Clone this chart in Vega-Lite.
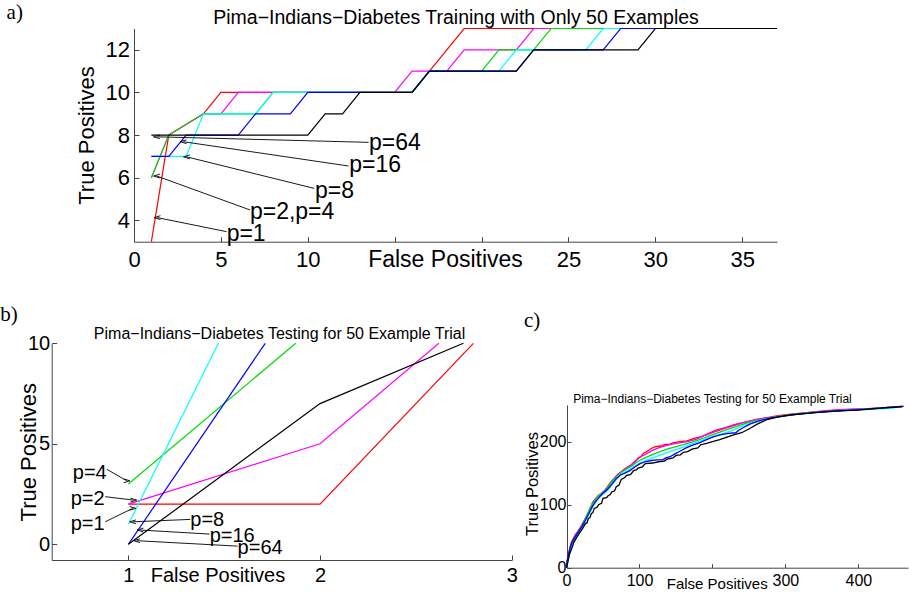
{
"$schema": "https://vega.github.io/schema/vega-lite/v6.json",
"width": 909, "height": 593,
"autosize": {"type": "none"},
"padding": 0,
"config": {
 "view": {"stroke": null},
 "axis": {"grid": false, "domainColor": "#444", "tickColor": "#444", "labelColor": "#000", "titleColor": "#000", "labelFont": "Liberation Sans", "titleFont": "Liberation Sans", "titleFontWeight": "normal", "labelOverlap": false, "labelFlush": false, "domainWidth": 1, "tickWidth": 1},
 "text": {"font": "Liberation Sans"}
},
"datasets": {
 "aLines": [
  {"p":"p=1","x":1,"y":3},{"p":"p=1","x":2,"y":8},{"p":"p=1","x":4,"y":9},{"p":"p=1","x":5,"y":10},{"p":"p=1","x":16,"y":10},{"p":"p=1","x":17,"y":11},{"p":"p=1","x":19,"y":13},{"p":"p=1","x":37,"y":13},
  {"p":"p=2","x":1,"y":6},{"p":"p=2","x":2,"y":8},{"p":"p=2","x":4,"y":9},{"p":"p=2","x":5,"y":9},{"p":"p=2","x":6,"y":10},{"p":"p=2","x":15,"y":10},{"p":"p=2","x":16,"y":11},{"p":"p=2","x":18,"y":11},{"p":"p=2","x":19,"y":12},{"p":"p=2","x":22,"y":12},{"p":"p=2","x":23,"y":13},{"p":"p=2","x":37,"y":13},
  {"p":"p=4","x":1,"y":6},{"p":"p=4","x":2,"y":8},{"p":"p=4","x":4,"y":9},{"p":"p=4","x":7,"y":9},{"p":"p=4","x":8,"y":10},{"p":"p=4","x":16,"y":10},{"p":"p=4","x":17,"y":11},{"p":"p=4","x":20,"y":11},{"p":"p=4","x":21,"y":12},{"p":"p=4","x":23,"y":12},{"p":"p=4","x":24,"y":13},{"p":"p=4","x":37,"y":13},
  {"p":"p=8","x":1,"y":7},{"p":"p=8","x":3,"y":7},{"p":"p=8","x":4,"y":9},{"p":"p=8","x":7,"y":9},{"p":"p=8","x":8,"y":10},{"p":"p=8","x":16,"y":10},{"p":"p=8","x":17,"y":11},{"p":"p=8","x":21,"y":11},{"p":"p=8","x":22,"y":12},{"p":"p=8","x":26,"y":12},{"p":"p=8","x":27,"y":13},{"p":"p=8","x":37,"y":13},
  {"p":"p=16","x":1,"y":7},{"p":"p=16","x":2,"y":7},{"p":"p=16","x":3,"y":8},{"p":"p=16","x":6,"y":8},{"p":"p=16","x":7,"y":9},{"p":"p=16","x":9,"y":9},{"p":"p=16","x":10,"y":10},{"p":"p=16","x":16,"y":10},{"p":"p=16","x":17,"y":11},{"p":"p=16","x":22,"y":11},{"p":"p=16","x":23,"y":12},{"p":"p=16","x":27,"y":12},{"p":"p=16","x":28,"y":13},{"p":"p=16","x":37,"y":13},
  {"p":"p=64","x":1,"y":8},{"p":"p=64","x":10,"y":8},{"p":"p=64","x":11,"y":9},{"p":"p=64","x":12,"y":9},{"p":"p=64","x":13,"y":10},{"p":"p=64","x":16,"y":10},{"p":"p=64","x":17,"y":11},{"p":"p=64","x":22,"y":11},{"p":"p=64","x":23,"y":12},{"p":"p=64","x":29,"y":12},{"p":"p=64","x":30,"y":13},{"p":"p=64","x":37,"y":13}
 ],
 "aText": [
  {"label":"p=64","x":13.52,"y":7.61},
  {"label":"p=16","x":12.39,"y":6.6},
  {"label":"p=8","x":10.41,"y":5.39},
  {"label":"p=2,p=4","x":6.67,"y":4.41},
  {"label":"p=1","x":5.33,"y":3.35}
 ],
 "aArrows": [
  {"dir":"L","x":1.31,"y":7.92,"x2":13.5,"y2":7.66},
  {"dir":"L","x":2.84,"y":7.69,"x2":12.35,"y2":6.55},
  {"dir":"L","x":3.03,"y":6.98,"x2":10.37,"y2":5.5},
  {"dir":"L","x":1.31,"y":6.08,"x2":6.67,"y2":4.49},
  {"dir":"L","x":1.34,"y":4.13,"x2":5.33,"y2":3.47}
 ],
 "aTitle": [{"label":"Pima−Indians−Diabetes Training with Only 50 Examples","x":18.53,"y":13.21}],
 "aTag": [{"label":"a)","x":-7.33,"y":13.44}],
 "bLines": [
  {"p":"p=1","x":1,"y":2},{"p":"p=1","x":2,"y":2},{"p":"p=1","x":2.8,"y":10},
  {"p":"p=2","x":1,"y":2},{"p":"p=2","x":2,"y":5},{"p":"p=2","x":2.62,"y":10},
  {"p":"p=4","x":1,"y":3},{"p":"p=4","x":1.873,"y":10},
  {"p":"p=8","x":1,"y":1},{"p":"p=8","x":1.47,"y":10},
  {"p":"p=16","x":1,"y":0},{"p":"p=16","x":1.714,"y":10},
  {"p":"p=64","x":1,"y":0},{"p":"p=64","x":2,"y":7},{"p":"p=64","x":2.748,"y":10}
 ],
 "bText": [
  {"label":"p=4","x":0.71,"y":3.55},
  {"label":"p=2","x":0.699,"y":2.25},
  {"label":"p=1","x":0.699,"y":1.01},
  {"label":"p=8","x":1.323,"y":1.21},
  {"label":"p=16","x":1.424,"y":0.43},
  {"label":"p=64","x":1.57,"y":-0.2}
 ],
 "bArrows": [
  {"dir":"R","x":0.992,"y":3.16,"x2":0.888,"y2":3.73},
  {"dir":"R","x":1.027,"y":2.2,"x2":0.879,"y2":2.37},
  {"dir":"R","x":1.023,"y":1.79,"x2":0.879,"y2":1.12},
  {"dir":"L","x":1.023,"y":1.12,"x2":1.323,"y2":1.24},
  {"dir":"L","x":1.062,"y":0.71,"x2":1.424,"y2":0.51},
  {"dir":"L","x":1.044,"y":0.18,"x2":1.57,"y2":-0.09}
 ],
 "bTitle": [{"label":"Pima−Indians−Diabetes Testing for 50 Example Trial","x":1.789,"y":10.2}],
 "bTag": [{"label":"b)","x":0.332,"y":11.11}],
 "cLines": [
  {"p":"p=1","x":0,"y":0},{"p":"p=1","x":1,"y":8},{"p":"p=1","x":2,"y":18},{"p":"p=1","x":4,"y":28},{"p":"p=1","x":6,"y":38},{"p":"p=1","x":9,"y":46},{"p":"p=1","x":12,"y":52},{"p":"p=1","x":15,"y":57},{"p":"p=1","x":19,"y":64},{"p":"p=1","x":22,"y":70},{"p":"p=1","x":26,"y":78},{"p":"p=1","x":30,"y":88},{"p":"p=1","x":33,"y":96},{"p":"p=1","x":36,"y":104},{"p":"p=1","x":40,"y":110},{"p":"p=1","x":44,"y":115},{"p":"p=1","x":48,"y":118},{"p":"p=1","x":52,"y":122},{"p":"p=1","x":56,"y":128},{"p":"p=1","x":60,"y":135},{"p":"p=1","x":65,"y":141},{"p":"p=1","x":70,"y":148},{"p":"p=1","x":75,"y":152},{"p":"p=1","x":80,"y":157},{"p":"p=1","x":86,"y":161},{"p":"p=1","x":90,"y":162},{"p":"p=1","x":94,"y":168},{"p":"p=1","x":98,"y":174},{"p":"p=1","x":102,"y":176},{"p":"p=1","x":106,"y":182},{"p":"p=1","x":110,"y":184},{"p":"p=1","x":116,"y":189},{"p":"p=1","x":122,"y":192},{"p":"p=1","x":130,"y":193},{"p":"p=1","x":134,"y":195},{"p":"p=1","x":142,"y":196},{"p":"p=1","x":146,"y":198},{"p":"p=1","x":155,"y":200},{"p":"p=1","x":165,"y":201},{"p":"p=1","x":175,"y":205},{"p":"p=1","x":185,"y":208},{"p":"p=1","x":195,"y":213},{"p":"p=1","x":205,"y":218},{"p":"p=1","x":218,"y":222},{"p":"p=1","x":230,"y":227},{"p":"p=1","x":245,"y":231},{"p":"p=1","x":260,"y":235},{"p":"p=1","x":275,"y":238},{"p":"p=1","x":290,"y":241},{"p":"p=1","x":310,"y":244},{"p":"p=1","x":330,"y":246},{"p":"p=1","x":350,"y":248},{"p":"p=1","x":370,"y":250},{"p":"p=1","x":390,"y":251},{"p":"p=1","x":410,"y":252},{"p":"p=1","x":425,"y":253},
  {"p":"p=2","x":0,"y":0},{"p":"p=2","x":1,"y":10},{"p":"p=2","x":3,"y":20},{"p":"p=2","x":5,"y":32},{"p":"p=2","x":8,"y":42},{"p":"p=2","x":11,"y":49},{"p":"p=2","x":15,"y":56},{"p":"p=2","x":19,"y":63},{"p":"p=2","x":23,"y":72},{"p":"p=2","x":27,"y":80},{"p":"p=2","x":31,"y":90},{"p":"p=2","x":35,"y":100},{"p":"p=2","x":39,"y":108},{"p":"p=2","x":44,"y":114},{"p":"p=2","x":49,"y":119},{"p":"p=2","x":54,"y":124},{"p":"p=2","x":59,"y":132},{"p":"p=2","x":64,"y":140},{"p":"p=2","x":70,"y":147},{"p":"p=2","x":76,"y":153},{"p":"p=2","x":82,"y":158},{"p":"p=2","x":88,"y":163},{"p":"p=2","x":95,"y":170},{"p":"p=2","x":102,"y":176},{"p":"p=2","x":110,"y":181},{"p":"p=2","x":118,"y":186},{"p":"p=2","x":126,"y":190},{"p":"p=2","x":135,"y":193},{"p":"p=2","x":145,"y":196},{"p":"p=2","x":155,"y":198},{"p":"p=2","x":166,"y":200},{"p":"p=2","x":178,"y":204},{"p":"p=2","x":190,"y":210},{"p":"p=2","x":202,"y":215},{"p":"p=2","x":215,"y":220},{"p":"p=2","x":228,"y":225},{"p":"p=2","x":242,"y":230},{"p":"p=2","x":258,"y":234},{"p":"p=2","x":274,"y":237},{"p":"p=2","x":290,"y":240},{"p":"p=2","x":310,"y":243},{"p":"p=2","x":330,"y":246},{"p":"p=2","x":355,"y":249},{"p":"p=2","x":380,"y":251},{"p":"p=2","x":405,"y":252},{"p":"p=2","x":428,"y":253},
  {"p":"p=4","x":0,"y":0},{"p":"p=4","x":2,"y":12},{"p":"p=4","x":4,"y":24},{"p":"p=4","x":6,"y":34},{"p":"p=4","x":9,"y":43},{"p":"p=4","x":13,"y":51},{"p":"p=4","x":17,"y":58},{"p":"p=4","x":21,"y":66},{"p":"p=4","x":25,"y":76},{"p":"p=4","x":29,"y":86},{"p":"p=4","x":33,"y":96},{"p":"p=4","x":37,"y":104},{"p":"p=4","x":42,"y":112},{"p":"p=4","x":47,"y":117},{"p":"p=4","x":53,"y":122},{"p":"p=4","x":58,"y":130},{"p":"p=4","x":64,"y":139},{"p":"p=4","x":70,"y":146},{"p":"p=4","x":76,"y":152},{"p":"p=4","x":83,"y":157},{"p":"p=4","x":90,"y":162},{"p":"p=4","x":97,"y":168},{"p":"p=4","x":105,"y":173},{"p":"p=4","x":113,"y":177},{"p":"p=4","x":121,"y":181},{"p":"p=4","x":130,"y":185},{"p":"p=4","x":140,"y":189},{"p":"p=4","x":150,"y":192},{"p":"p=4","x":160,"y":195},{"p":"p=4","x":172,"y":199},{"p":"p=4","x":184,"y":204},{"p":"p=4","x":196,"y":209},{"p":"p=4","x":210,"y":215},{"p":"p=4","x":225,"y":221},{"p":"p=4","x":240,"y":227},{"p":"p=4","x":255,"y":232},{"p":"p=4","x":272,"y":236},{"p":"p=4","x":290,"y":240},{"p":"p=4","x":310,"y":243},{"p":"p=4","x":335,"y":246},{"p":"p=4","x":360,"y":248},{"p":"p=4","x":385,"y":250},{"p":"p=4","x":410,"y":252},{"p":"p=4","x":435,"y":253},{"p":"p=4","x":450,"y":254},
  {"p":"p=8","x":0,"y":0},{"p":"p=8","x":2,"y":10},{"p":"p=8","x":4,"y":22},{"p":"p=8","x":7,"y":33},{"p":"p=8","x":10,"y":42},{"p":"p=8","x":14,"y":50},{"p":"p=8","x":18,"y":57},{"p":"p=8","x":22,"y":65},{"p":"p=8","x":26,"y":74},{"p":"p=8","x":30,"y":83},{"p":"p=8","x":34,"y":93},{"p":"p=8","x":38,"y":101},{"p":"p=8","x":43,"y":109},{"p":"p=8","x":48,"y":115},{"p":"p=8","x":54,"y":120},{"p":"p=8","x":60,"y":128},{"p":"p=8","x":66,"y":137},{"p":"p=8","x":72,"y":145},{"p":"p=8","x":78,"y":150},{"p":"p=8","x":85,"y":155},{"p":"p=8","x":92,"y":160},{"p":"p=8","x":99,"y":165},{"p":"p=8","x":107,"y":169},{"p":"p=8","x":115,"y":173},{"p":"p=8","x":123,"y":176},{"p":"p=8","x":132,"y":180},{"p":"p=8","x":142,"y":184},{"p":"p=8","x":152,"y":188},{"p":"p=8","x":162,"y":192},{"p":"p=8","x":174,"y":197},{"p":"p=8","x":186,"y":202},{"p":"p=8","x":198,"y":207},{"p":"p=8","x":212,"y":212},{"p":"p=8","x":226,"y":217},{"p":"p=8","x":240,"y":224},{"p":"p=8","x":255,"y":230},{"p":"p=8","x":270,"y":235},{"p":"p=8","x":288,"y":239},{"p":"p=8","x":308,"y":242},{"p":"p=8","x":330,"y":245},{"p":"p=8","x":355,"y":247},{"p":"p=8","x":380,"y":249},{"p":"p=8","x":405,"y":251},{"p":"p=8","x":430,"y":252},{"p":"p=8","x":448,"y":253},
  {"p":"p=16","x":0,"y":0},{"p":"p=16","x":1,"y":12},{"p":"p=16","x":3,"y":22},{"p":"p=16","x":5,"y":32},{"p":"p=16","x":8,"y":41},{"p":"p=16","x":12,"y":49},{"p":"p=16","x":16,"y":56},{"p":"p=16","x":20,"y":63},{"p":"p=16","x":24,"y":71},{"p":"p=16","x":28,"y":80},{"p":"p=16","x":32,"y":89},{"p":"p=16","x":36,"y":98},{"p":"p=16","x":40,"y":105},{"p":"p=16","x":45,"y":112},{"p":"p=16","x":50,"y":118},{"p":"p=16","x":56,"y":124},{"p":"p=16","x":62,"y":132},{"p":"p=16","x":68,"y":141},{"p":"p=16","x":74,"y":147},{"p":"p=16","x":80,"y":150},{"p":"p=16","x":87,"y":154},{"p":"p=16","x":94,"y":160},{"p":"p=16","x":101,"y":165},{"p":"p=16","x":108,"y":168},{"p":"p=16","x":116,"y":170},{"p":"p=16","x":124,"y":171},{"p":"p=16","x":132,"y":171},{"p":"p=16","x":136,"y":174},{"p":"p=16","x":142,"y":176},{"p":"p=16","x":148,"y":180},{"p":"p=16","x":156,"y":185},{"p":"p=16","x":164,"y":190},{"p":"p=16","x":172,"y":194},{"p":"p=16","x":182,"y":198},{"p":"p=16","x":192,"y":203},{"p":"p=16","x":202,"y":208},{"p":"p=16","x":212,"y":211},{"p":"p=16","x":222,"y":213},{"p":"p=16","x":232,"y":214},{"p":"p=16","x":236,"y":218},{"p":"p=16","x":242,"y":222},{"p":"p=16","x":252,"y":228},{"p":"p=16","x":264,"y":233},{"p":"p=16","x":278,"y":237},{"p":"p=16","x":295,"y":240},{"p":"p=16","x":315,"y":243},{"p":"p=16","x":340,"y":246},{"p":"p=16","x":365,"y":248},{"p":"p=16","x":390,"y":250},{"p":"p=16","x":415,"y":252},{"p":"p=16","x":440,"y":254},{"p":"p=16","x":462,"y":256},
  {"p":"p=64","x":0,"y":0},{"p":"p=64","x":2,"y":10},{"p":"p=64","x":4,"y":21},{"p":"p=64","x":7,"y":30},{"p":"p=64","x":10,"y":40},{"p":"p=64","x":14,"y":48},{"p":"p=64","x":18,"y":55},{"p":"p=64","x":22,"y":62},{"p":"p=64","x":26,"y":70},{"p":"p=64","x":28,"y":71},{"p":"p=64","x":30,"y":78},{"p":"p=64","x":32,"y":79},{"p":"p=64","x":34,"y":86},{"p":"p=64","x":36,"y":87},{"p":"p=64","x":38,"y":94},{"p":"p=64","x":42,"y":96},{"p":"p=64","x":44,"y":100},{"p":"p=64","x":48,"y":102},{"p":"p=64","x":50,"y":110},{"p":"p=64","x":55,"y":111},{"p":"p=64","x":57,"y":114},{"p":"p=64","x":60,"y":116},{"p":"p=64","x":62,"y":120},{"p":"p=64","x":66,"y":122},{"p":"p=64","x":68,"y":128},{"p":"p=64","x":72,"y":131},{"p":"p=64","x":75,"y":140},{"p":"p=64","x":80,"y":143},{"p":"p=64","x":82,"y":146},{"p":"p=64","x":88,"y":148},{"p":"p=64","x":92,"y":154},{"p":"p=64","x":96,"y":155},{"p":"p=64","x":98,"y":158},{"p":"p=64","x":104,"y":160},{"p":"p=64","x":108,"y":165},{"p":"p=64","x":118,"y":166},{"p":"p=64","x":126,"y":168},{"p":"p=64","x":134,"y":169},{"p":"p=64","x":138,"y":172},{"p":"p=64","x":146,"y":174},{"p":"p=64","x":150,"y":178},{"p":"p=64","x":156,"y":179},{"p":"p=64","x":160,"y":183},{"p":"p=64","x":166,"y":184},{"p":"p=64","x":172,"y":188},{"p":"p=64","x":180,"y":190},{"p":"p=64","x":184,"y":195},{"p":"p=64","x":192,"y":197},{"p":"p=64","x":200,"y":200},{"p":"p=64","x":210,"y":203},{"p":"p=64","x":220,"y":207},{"p":"p=64","x":230,"y":211},{"p":"p=64","x":240,"y":214},{"p":"p=64","x":250,"y":220},{"p":"p=64","x":262,"y":228},{"p":"p=64","x":275,"y":235},{"p":"p=64","x":290,"y":239},{"p":"p=64","x":305,"y":242},{"p":"p=64","x":322,"y":244},{"p":"p=64","x":340,"y":246},{"p":"p=64","x":360,"y":248},{"p":"p=64","x":380,"y":249},{"p":"p=64","x":400,"y":250},{"p":"p=64","x":420,"y":252},{"p":"p=64","x":440,"y":254},{"p":"p=64","x":460,"y":255}
 ],
 "cTitle": [{"label":"Pima−Indians−Diabetes Testing for 50 Example Trial","x":200,"y":261.4}],
 "cTag": [{"label":"c)","x":-58.3,"y":382}]
},
"layer": [
 {
  "encoding": {
   "x": {"field":"x","type":"quantitative","scale":{"domain":[0,37],"range":[134,777],"nice":false,"zero":false},
     "axis":{"orient":"bottom","offset":-351.3,"values":[0,5,10,15,20,25,30,35],"labelExpr":"datum.value == 15 || datum.value == 20 ? '' : datum.label","tickSize":-5,"labelPadding":30,"labelBaseline":"alphabetic","labelFontSize":22,"title":"False Positives","titleFontSize":23,"titleX":445,"titleY":25,"titleBaseline":"alphabetic","titleAlign":"center"}},
   "y": {"field":"y","type":"quantitative","scale":{"domain":[3,13],"range":[241.7,28.5],"nice":false,"zero":false},
     "axis":{"orient":"left","offset":-134,"values":[4,6,8,10,12],"tickSize":-5,"labelPadding":9.5,"labelBaseline":"middle","labelFontSize":22,"title":"True Positives","titleFontSize":22,"titleX":-40.5,"titleY":135,"titleBaseline":"alphabetic","titleAlign":"center","titleAngle":270}}
  },
  "layer": [
   {"data":{"name":"aLines"},"mark":{"type":"line","strokeWidth":1.2},"encoding":{"color":{"field":"p","type":"nominal","scale":{"domain":["p=1","p=2","p=4","p=8","p=16","p=64"],"range":["#ff0000","#ff00ff","#00dd00","#00ffff","#0000ff","#000000"]},"legend":null}}},
   {"data":{"name":"aArrows"},"mark":{"type":"rule","color":"#000","strokeWidth":0.9},"encoding":{"x2":{"field":"x2"},"y2":{"field":"y2"}}},
   {"data":{"name":"aArrows"},"mark":{"type":"point","filled":false,"size":40,"color":"#000","strokeWidth":0.9,"opacity":1},"encoding":{"shape":{"field":"dir","type":"nominal","scale":{"domain":["L","R"],"range":["M 1 -0.6 L -1 0 L 1 0.6","M -1 -0.6 L 1 0 L -1 0.6"]},"legend":null}}},
   {"data":{"name":"aText"},"mark":{"type":"text","align":"left","baseline":"middle","fontSize":23,"color":"#000"},"encoding":{"text":{"field":"label"}}},
   {"data":{"name":"aTitle"},"mark":{"type":"text","align":"center","baseline":"alphabetic","fontSize":19.5,"color":"#000"},"encoding":{"text":{"field":"label"}}},
   {"data":{"name":"aTag"},"mark":{"type":"text","align":"left","baseline":"alphabetic","fontSize":21,"font":"Liberation Serif","color":"#000"},"encoding":{"text":{"field":"label"}}}
  ]
 },
 {
  "encoding": {
   "x": {"field":"x","type":"quantitative","scale":{"domain":[0.6,3],"range":[51.7,511.7],"nice":false,"zero":false},
     "axis":{"orient":"bottom","offset":-33,"values":[1,2,3],"tickSize":-5,"labelPadding":26.7,"labelBaseline":"alphabetic","labelFontSize":20,"title":"False Positives","titleFontSize":20,"titleX":217.5,"titleY":21.7,"titleBaseline":"alphabetic","titleAlign":"center"}},
   "y": {"field":"y","type":"quantitative","scale":{"domain":[-0.78,10],"range":[560,343.3],"nice":false,"zero":false},
     "axis":{"orient":"left","offset":-51.7,"values":[0,5,10],"tickSize":-5,"labelPadding":7,"labelBaseline":"middle","labelFontSize":20,"title":"True Positives","titleFontSize":22,"titleX":-16.7,"titleY":451.7,"titleBaseline":"alphabetic","titleAlign":"center","titleAngle":270}}
  },
  "layer": [
   {"data":{"name":"bLines"},"mark":{"type":"line","strokeWidth":1.2},"encoding":{"color":{"field":"p","type":"nominal","legend":null}}},
   {"data":{"name":"bArrows"},"mark":{"type":"rule","color":"#000","strokeWidth":0.9},"encoding":{"x2":{"field":"x2"},"y2":{"field":"y2"}}},
   {"data":{"name":"bArrows"},"mark":{"type":"point","filled":false,"size":40,"color":"#000","strokeWidth":0.9,"opacity":1},"encoding":{"shape":{"field":"dir","type":"nominal","legend":null}}},
   {"data":{"name":"bText"},"mark":{"type":"text","align":"left","baseline":"middle","fontSize":20,"color":"#000"},"encoding":{"text":{"field":"label"}}},
   {"data":{"name":"bTitle"},"mark":{"type":"text","align":"center","baseline":"alphabetic","fontSize":16,"color":"#000"},"encoding":{"text":{"field":"label"}}},
   {"data":{"name":"bTag"},"mark":{"type":"text","align":"left","baseline":"alphabetic","fontSize":21,"font":"Liberation Serif","color":"#000"},"encoding":{"text":{"field":"label"}}}
  ]
 },
 {
  "encoding": {
   "x": {"field":"x","type":"quantitative","scale":{"domain":[0,468],"range":[566.5,908],"nice":false,"zero":false},
     "axis":{"orient":"bottom","offset":-25.3,"values":[0,100,200,300,400],"labelExpr":"datum.value == 200 ? '' : datum.label","tickSize":-4,"labelPadding":21.3,"labelBaseline":"alphabetic","labelFontSize":16,"title":"False Positives","titleFontSize":15,"titleX":716.7,"titleY":20.3,"titleBaseline":"alphabetic","titleAlign":"center"}},
   "y": {"field":"y","type":"quantitative","scale":{"domain":[0,258],"range":[567.7,405],"nice":false,"zero":false},
     "axis":{"orient":"left","offset":-567,"values":[0,100,200],"tickSize":-4,"labelPadding":5,"labelBaseline":"middle","labelFontSize":16,"title":"True Positives","titleFontSize":16.5,"titleX":-30,"titleY":483.5,"titleBaseline":"alphabetic","titleAlign":"center","titleAngle":270}}
  },
  "layer": [
   {"data":{"name":"cLines"},"mark":{"type":"line","strokeWidth":1.3},"encoding":{"color":{"field":"p","type":"nominal","legend":null}}},
   {"data":{"name":"cTitle"},"mark":{"type":"text","align":"center","baseline":"alphabetic","fontSize":12,"color":"#000"},"encoding":{"text":{"field":"label"}}},
   {"data":{"name":"cTag"},"mark":{"type":"text","align":"left","baseline":"alphabetic","fontSize":21,"font":"Liberation Serif","color":"#000"},"encoding":{"text":{"field":"label"}}}
  ]
 }
],
"resolve": {"scale": {"x": "independent", "y": "independent"}, "axis": {"x": "independent", "y": "independent"}}
}
